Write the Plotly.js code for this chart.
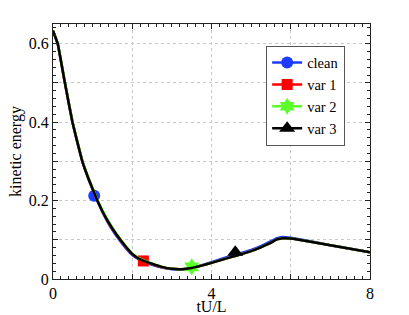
<!DOCTYPE html>
<html>
<head>
<meta charset="utf-8">
<script src="https://cdn.plot.ly/plotly-3.0.1.min.js"></script>
<style>html,body{margin:0;padding:0;background:#fff;}#chart{width:409px;height:315px;}</style>
</head>
<body>
<div id="chart"></div>
<script>
// time axis (tU/L)
const tU = [0, 0.12, 0.3, 0.49, 0.62, 0.74, 0.9, 1.12, 1.25, 1.4, 1.55, 1.7, 1.85, 2.0, 2.15, 2.28, 2.5, 2.75, 3.0, 3.25, 3.5, 3.75, 4.0, 4.3, 4.64, 5.0, 5.23, 5.45, 5.65, 5.8, 6.0, 6.5, 7.0, 7.5, 8.0];
// kinetic energy series
const keClean = [0.633, 0.598, 0.5, 0.4, 0.345, 0.3, 0.253, 0.198, 0.170, 0.141, 0.117, 0.096, 0.077, 0.061, 0.051, 0.045, 0.036, 0.029, 0.025, 0.024, 0.028, 0.035, 0.043, 0.053, 0.063, 0.074, 0.083, 0.094, 0.104, 0.107, 0.105, 0.096, 0.086, 0.077, 0.068];
const keVar1  = [0.633, 0.599, 0.5, 0.4, 0.347, 0.3, 0.255, 0.2, 0.172, 0.144, 0.120, 0.099, 0.080, 0.063, 0.053, 0.047, 0.038, 0.030, 0.026, 0.025, 0.028, 0.034, 0.041, 0.050, 0.060, 0.071, 0.080, 0.090, 0.101, 0.104, 0.103, 0.095, 0.086, 0.077, 0.068];
const keVar2  = [0.633, 0.601, 0.502, 0.402, 0.349, 0.302, 0.257, 0.202, 0.175, 0.147, 0.123, 0.102, 0.082, 0.065, 0.054, 0.048, 0.039, 0.031, 0.026, 0.025, 0.028, 0.034, 0.041, 0.050, 0.060, 0.071, 0.080, 0.090, 0.101, 0.104, 0.103, 0.095, 0.086, 0.077, 0.068];
const keVar3  = [0.633, 0.6, 0.5, 0.4, 0.347, 0.3, 0.255, 0.2, 0.172, 0.145, 0.121, 0.1, 0.081, 0.064, 0.053, 0.047, 0.039, 0.031, 0.026, 0.025, 0.028, 0.034, 0.041, 0.050, 0.060, 0.071, 0.080, 0.090, 0.101, 0.104, 0.103, 0.095, 0.086, 0.077, 0.068];
// single marker locations per series
const markClean = {x: [1.04], y: [0.212]};
const markVar1  = {x: [2.28], y: [0.046]};
const markVar2  = {x: [3.5],  y: [0.031]};
const markVar3  = {x: [4.6],  y: [0.068]};
const seriesNames = ['clean', 'var 1', 'var 2', 'var 3'];
const xTickVals = [0, 2, 4, 6, 8];
const xTickText = ['0', '', '4', '', '8'];
const yTickVals = [0, 0.1, 0.2, 0.3, 0.4, 0.5, 0.6];
const yTickText = ['0', '', '0.2', '', '0.4', '', '0.6'];

const colors = ['rgb(30,60,255)', 'rgb(255,0,0)', 'rgb(90,255,40)', 'rgb(0,0,0)'];
const symbols = ['circle', 'square', 'hexagram', 'triangle-up'];
const sizes = [12, 11, 13, 14];
const lines = [keClean, keVar1, keVar2, keVar3];
const marks = [markClean, markVar1, markVar2, markVar3];

const traces = [];
for (let i = 0; i < 4; i++) {
  traces.push({
    x: marks[i].x, y: marks[i].y, type: 'scatter', mode: 'lines+markers',
    name: seriesNames[i], showlegend: true,
    line: {color: colors[i], width: 2.5},
    marker: {symbol: symbols[i], size: sizes[i], color: colors[i], line: {width: 0}}
  });
  traces.push({
    x: tU, y: lines[i], type: 'scatter', mode: 'lines', showlegend: false,
    name: seriesNames[i], line: {color: colors[i], width: 2.5, shape: 'spline', smoothing: 0.25},
    hoverinfo: 'skip'
  });
}

const font = {family: 'Liberation Serif, Times New Roman, serif', size: 16, color: '#000'};
const legendFont = {family: 'Liberation Serif, Times New Roman, serif', size: 14.5, color: '#000'};
const layout = {
  width: 409, height: 315,
  margin: {l: 53, r: 39, t: 24, b: 36},
  paper_bgcolor: '#fff', plot_bgcolor: '#fff',
  font: font,
  showlegend: true,
  legend: {
    x: 0.797, y: 0.915, xanchor: 'center', yanchor: 'top',
    bgcolor: '#fff', bordercolor: '#555', borderwidth: 1,
    font: legendFont, tracegroupgap: 0, itemwidth: 30
  },
  xaxis: {
    range: [0, 8], tickvals: xTickVals, ticktext: xTickText,
    ticks: 'inside', ticklen: 5, tickcolor: '#222',
    showline: true, linecolor: '#222', linewidth: 1, mirror: 'ticks',
    showgrid: true, gridcolor: '#c8c8c8', griddash: 'dot', gridwidth: 1,
    zeroline: false, automargin: false,
    minor: {dtick: 0.2, ticks: 'inside', ticklen: 3, tickcolor: '#222', showgrid: false},
    title: {text: 'tU/L', font: font, standoff: 3},
    tickfont: font
  },
  yaxis: {
    range: [0, 0.65], tickvals: yTickVals, ticktext: yTickText,
    ticks: 'inside', ticklen: 5, tickcolor: '#222',
    showline: true, linecolor: '#222', linewidth: 1, mirror: 'ticks',
    showgrid: true, gridcolor: '#c8c8c8', griddash: 'dot', gridwidth: 1,
    zeroline: false,
    minor: {dtick: 0.02, ticks: 'inside', ticklen: 3, tickcolor: '#222', showgrid: false},
    title: {text: 'kinetic energy', font: font, standoff: 3},
    tickfont: font
  }
};
Plotly.newPlot('chart', traces, layout, {displayModeBar: false, staticPlot: true});
</script>
</body>
</html>
